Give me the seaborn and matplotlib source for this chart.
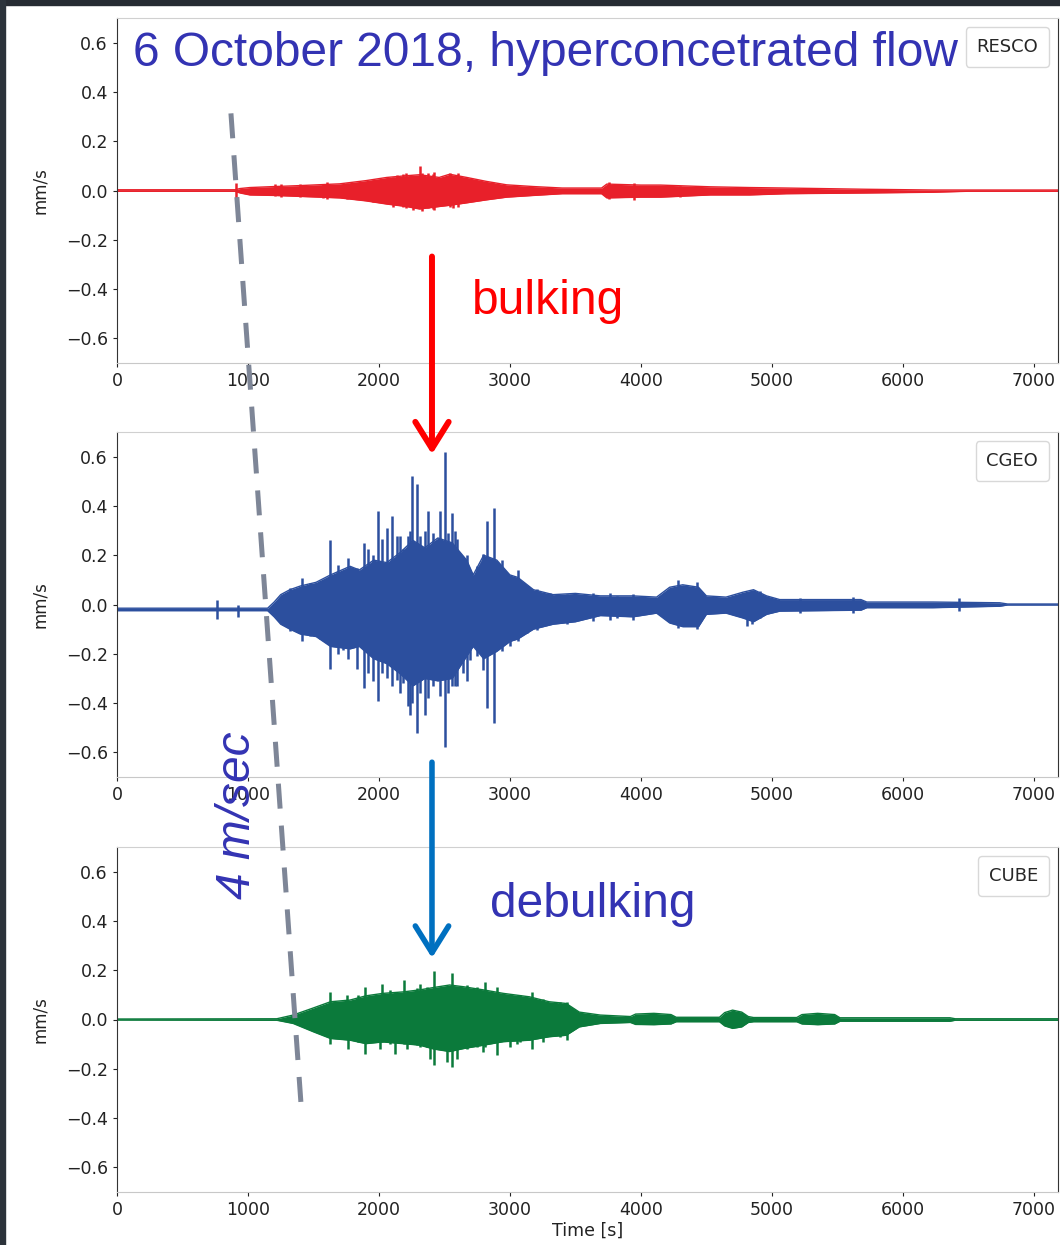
import numpy as np
import pandas as pd
import seaborn as sns
import matplotlib.pyplot as plt
from matplotlib.patches import ConnectionPatch, Rectangle

# stations, top to bottom
stations = ['RESCO', 'CGEO', 'CUBE']
colors = ['#e8202a', '#2c4f9e', '#0b7a3b']

# signal envelopes: time [s], upper / lower [mm/s]
resco_t = [0, 900, 940, 1015, 1200, 1400, 1700, 1900, 2060, 2210, 2310, 2460, 2540, 2670, 2820,
           2975, 3180, 3400, 3700, 3740, 4000, 4150, 4530, 4830, 5110, 5720, 6230, 6500, 7200]
resco_up = [0.003, 0.003, 0.008, 0.012, 0.016, 0.02, 0.027, 0.04, 0.053, 0.06, 0.064, 0.053, 0.066, 0.053, 0.037,
            0.023, 0.016, 0.01, 0.01, 0.026, 0.022, 0.022, 0.015, 0.012, 0.01, 0.005, 0.002, 0.002, 0.002]
resco_lo = [-0.003, -0.003, -0.01, -0.018, -0.02, -0.024, -0.03, -0.042, -0.055, -0.065, -0.075, -0.065, -0.06, -0.05, -0.038,
            -0.027, -0.02, -0.013, -0.013, -0.03, -0.027, -0.027, -0.018, -0.018, -0.013, -0.01, -0.007, -0.003, -0.003]

cgeo_t = [0, 1150, 1200, 1250, 1320, 1400, 1520, 1630, 1780, 1850, 1960, 2060, 2160, 2260, 2350,
          2450, 2560, 2670, 2720, 2800, 2900, 3000, 3060, 3180, 3330, 3500, 3690, 3940, 4120, 4220,
          4320, 4440, 4500, 4650, 4780, 4860, 4960, 5060, 5680, 5725, 6230, 6740, 6800, 7200]
cgeo_up = [-0.015, -0.015, 0.01, 0.04, 0.06, 0.075, 0.09, 0.12, 0.155, 0.14, 0.18, 0.17, 0.21, 0.26, 0.23,
           0.27, 0.25, 0.18, 0.12, 0.20, 0.18, 0.12, 0.11, 0.06, 0.04, 0.045, 0.035, 0.035, 0.03, 0.07,
           0.08, 0.07, 0.035, 0.03, 0.05, 0.06, 0.035, 0.02, 0.02, 0.01, 0.01, 0.007, 0.002, 0.002]
cgeo_lo = [-0.025, -0.025, -0.05, -0.08, -0.10, -0.12, -0.13, -0.17, -0.18, -0.17, -0.22, -0.24, -0.28, -0.33, -0.30,
           -0.31, -0.30, -0.21, -0.17, -0.22, -0.19, -0.15, -0.14, -0.10, -0.08, -0.07, -0.045, -0.05, -0.035, -0.075,
           -0.09, -0.09, -0.04, -0.035, -0.055, -0.07, -0.04, -0.027, -0.023, -0.013, -0.013, -0.007, -0.002, -0.002]

cube_t = [0, 1220, 1345, 1500, 1630, 1780, 1900, 2030, 2185, 2310, 2420, 2540, 2645, 2800, 2950,
          3150, 3300, 3430, 3530, 3690, 3920, 3960, 4100, 4230, 4270, 4600, 4640, 4700, 4770, 4820,
          4860, 5190, 5230, 5350, 5480, 5520, 6360, 6400, 7200]
cube_up = [0.002, 0.003, 0.018, 0.047, 0.072, 0.079, 0.096, 0.106, 0.112, 0.12, 0.13, 0.14, 0.133, 0.12, 0.106,
           0.092, 0.072, 0.065, 0.03, 0.018, 0.012, 0.022, 0.025, 0.02, 0.009, 0.009, 0.028, 0.038, 0.03, 0.012,
           0.008, 0.008, 0.02, 0.025, 0.02, 0.007, 0.007, 0.003, 0.003]
cube_lo = [-0.002, -0.003, -0.016, -0.05, -0.077, -0.084, -0.098, -0.091, -0.098, -0.104, -0.12, -0.13, -0.118, -0.104, -0.09,
           -0.084, -0.07, -0.064, -0.03, -0.016, -0.012, -0.02, -0.021, -0.018, -0.009, -0.009, -0.026, -0.036, -0.03, -0.012,
           -0.009, -0.009, -0.018, -0.021, -0.018, -0.007, -0.007, -0.003, -0.003]

# single peaks sticking out of the envelope (time, top, bottom)
resco_spk_t = [908, 1250, 1600, 2210, 2313, 2330, 2420, 2600, 3760, 3950, 4300,
               1206, 1397, 1575, 1753, 1957, 2110, 2135, 2186, 2262, 2377, 2415, 2542, 2568, 2644, 2771, 2873]
resco_spk_top = [0.03, 0.025, 0.035, 0.07, 0.098, 0.07, 0.075, 0.07, 0.035, 0.03, 0.02,
                 0.026, 0.026, 0.027, 0.03, 0.043, 0.055, 0.064, 0.066, 0.06, 0.07, 0.065, 0.07, 0.06, 0.05, 0.039, 0.03]
resco_spk_bot = [-0.03, -0.028, -0.035, -0.07, -0.07, -0.085, -0.08, -0.065, -0.035, -0.04, -0.025,
                 -0.022, -0.026, -0.03, -0.034, -0.045, -0.065, -0.06, -0.066, -0.079, -0.07, -0.075, -0.065, -0.072,
                 -0.052, -0.04, -0.03]

cgeo_spk_t = [760, 925, 1626, 1690, 1766, 1830, 1888, 1957, 1995, 2058, 2097, 2160, 2237, 2254, 2287,
              2351, 2377, 2466, 2504, 2555, 2580, 2669, 2822, 2880, 2936, 3063, 4282, 4425, 4850, 6430,
              1321, 1410, 1473, 1550, 1728, 1918, 2020, 2135, 2186, 2224, 2313, 2415, 2529, 2593, 2644,
              2695, 2746, 2796, 3000, 3127, 3204, 3305, 3433, 3636, 3763, 3814, 3941, 4807, 4908, 5214, 5620]
cgeo_spk_top = [0.02, 0.0, 0.26, 0.16, 0.19, 0.15, 0.25, 0.20, 0.38, 0.31, 0.36, 0.28, 0.30, 0.52, 0.49,
                0.30, 0.38, 0.38, 0.62, 0.37, 0.30, 0.20, 0.34, 0.39, 0.18, 0.14, 0.10, 0.09, 0.06, 0.025,
                0.068, 0.108, 0.088, 0.095, 0.136, 0.224, 0.264, 0.277, 0.224, 0.277, 0.277, 0.291, 0.29, 0.264, 0.169,
                0.142, 0.156, 0.203, 0.115, 0.075, 0.061, 0.047, 0.041, 0.047, 0.047, 0.034, 0.041, 0.05, 0.054, 0.027, 0.03]
cgeo_spk_bot = [-0.06, -0.05, -0.26, -0.20, -0.22, -0.26, -0.34, -0.31, -0.39, -0.30, -0.33, -0.36, -0.45, -0.40, -0.52,
                -0.45, -0.38, -0.37, -0.58, -0.33, -0.33, -0.31, -0.42, -0.48, -0.19, -0.15, -0.095, -0.10, -0.08, -0.025,
                -0.108, -0.149, -0.129, -0.142, -0.183, -0.278, -0.278, -0.305, -0.319, -0.413, -0.36, -0.332, -0.36, -0.33,
                -0.278, -0.224, -0.21, -0.264, -0.17, -0.116, -0.102, -0.075, -0.081, -0.068, -0.061, -0.054, -0.061,
                -0.088, -0.054, -0.034, -0.034]

cube_spk_t = [1626, 1753, 1766, 1842, 1893, 2008, 2021, 2084, 2120, 2191, 2211, 2288, 2313, 2364, 2389, 2422,
              2517, 2555, 2593, 2669, 2746, 2797, 2809, 2898, 3000, 3051, 3076, 3165, 3255, 3382, 3433]
cube_spk_top = [0.112, 0.099, 0.08, 0.099, 0.133, 0.10, 0.146, 0.119, 0.11, 0.16, 0.11, 0.126, 0.146, 0.133, 0.12,
                0.196, 0.13, 0.187, 0.13, 0.14, 0.133, 0.12, 0.153, 0.133, 0.099, 0.09, 0.10, 0.112, 0.085, 0.072, 0.07]
cube_spk_bot = [-0.098, -0.08, -0.118, -0.09, -0.138, -0.118, -0.09, -0.10, -0.138, -0.10, -0.118, -0.105, -0.11,
                -0.11, -0.159, -0.186, -0.172, -0.192, -0.159, -0.12, -0.11, -0.131, -0.11, -0.145, -0.111, -0.1,
                -0.09, -0.118, -0.091, -0.07, -0.084]

yticks = [-0.6, -0.4, -0.2, 0.0, 0.2, 0.4, 0.6]
xticks = [0, 1000, 2000, 3000, 4000, 5000, 6000, 7000]

env = [(resco_t, resco_up, resco_lo), (cgeo_t, cgeo_up, cgeo_lo), (cube_t, cube_up, cube_lo)]
spk = [(resco_spk_t, resco_spk_top, resco_spk_bot), (cgeo_spk_t, cgeo_spk_top, cgeo_spk_bot),
       (cube_spk_t, cube_spk_top, cube_spk_bot)]

sns.set_style('ticks')
plt.rcParams['font.family'] = ['DejaVu Sans']

W, H = 1060, 1245
fig = plt.figure(figsize=(W / 100, H / 100), dpi=100)
fig.patch.set_facecolor('white')

# dark slide border top / left
fig.add_artist(Rectangle((0, 1 - 5 / H), 1, 5 / H, transform=fig.transFigure, color='#262b32', zorder=0))
fig.add_artist(Rectangle((0, 0), 5 / W, 1, transform=fig.transFigure, color='#2c333b', zorder=0))

left, width = 117 / W, (1058 - 117) / W
tops = [18, 432, 847]
axes = []
for i, name in enumerate(stations):
    top = tops[i]
    ax = fig.add_axes([left, 1 - (top + 345) / H, width, 345 / H])
    t, up, lo = env[i]
    df = pd.DataFrame({'t': t, 'up': up, 'lo': lo})
    ax.fill_between(df['t'], df['lo'], df['up'], color=colors[i], lw=0)
    sns.lineplot(data=df, x='t', y='up', ax=ax, color=colors[i], lw=1, label=name)
    sns.lineplot(data=df, x='t', y='lo', ax=ax, color=colors[i], lw=1)
    st, stop, sbot = spk[i]
    ax.vlines(st, sbot, stop, color=colors[i], lw=1.8)

    ax.set_xlim(0, 7185)
    ax.set_ylim(-0.7, 0.7)
    ax.set_xticks(xticks)
    ax.set_yticks(yticks)
    ax.set_yticklabels(['\u22120.6', '\u22120.4', '\u22120.2', '0.0', '0.2', '0.4', '0.6'])
    ax.tick_params(labelsize=12.5, colors='#222222', length=3, width=0.8)
    ax.set_xlabel('')
    ax.set_ylabel('mm/s', fontsize=12, color='#222222')
    ax.yaxis.set_label_coords(-68 / 941, 0.5)
    for s in ['left', 'right']:
        ax.spines[s].set_color('#333333')
    ax.spines['bottom'].set_color('#c8c8c8')
    ax.spines['top'].set_color('#d0d0d0')
    leg = ax.legend(loc='upper right', handlelength=0, handletextpad=0, fontsize=13,
                    frameon=True, edgecolor='#d8d8d8', framealpha=1, borderpad=0.6)
    for h in leg.legend_handles:
        h.set_visible(False)
    axes.append(ax)

axes[2].set_xlabel('Time [s]', fontsize=12.5, color='#222222', labelpad=2)
ax1, ax2, ax3 = axes

# dashed propagation line, ~4 m/s
dash = ConnectionPatch(xyA=(870, 0.313), coordsA=ax1.transData, xyB=(1410, -0.38), coordsB=ax3.transData,
                       color='#7e8697', lw=3.6, linestyle=(0, (5, 3.4)), capstyle='butt', zorder=10)
fig.add_artist(dash)

# bulking / debulking arrows
red = ConnectionPatch(xyA=(2405, -0.268), coordsA=ax1.transData, xyB=(2405, 0.61), coordsB=ax2.transData,
                      color='#ff0000', lw=4.3, arrowstyle='->,head_length=1.6,head_width=1.0',
                      mutation_scale=12, zorder=10)
fig.add_artist(red)
blue = ConnectionPatch(xyA=(2405, -0.64), coordsA=ax2.transData, xyB=(2405, 0.25), coordsB=ax3.transData,
                       color='#0070c0', lw=4.0, arrowstyle='->,head_length=1.6,head_width=1.0',
                       mutation_scale=12, zorder=10)
fig.add_artist(blue)

txt = dict(family=['Liberation Sans', 'DejaVu Sans'], zorder=11)
fig.text(133 / W, 1 - 66 / H, '6 October 2018, hyperconcetrated flow', fontsize=34.5,
         color='#3333b3', va='baseline', ha='left', **txt)
fig.text(472 / W, 1 - 314 / H, 'bulking', fontsize=34.5, color='#ff0000', va='baseline', ha='left', **txt)
fig.text(490 / W, 1 - 917 / H, 'debulking', fontsize=34.5, color='#3333b3', va='baseline', ha='left', **txt)
fig.text(238 / W, 1 - 815 / H, '4 m/sec', fontsize=34.5, color='#3333b3', rotation=90, style='italic',
         va='center', ha='center', **txt)

fig.savefig('out.png', dpi=100, facecolor=fig.get_facecolor())
